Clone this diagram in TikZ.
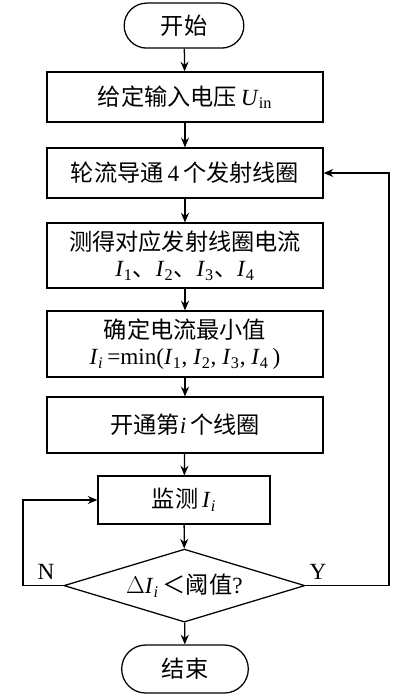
\documentclass[tikz,border=0pt]{standalone}
\usepackage{fontspec}
\setmainfont{Liberation Serif}
\newfontfamily\cjk{Noto Sans CJK SC}
\usepackage{tikz}
\usetikzlibrary{shapes.misc,shapes.geometric,arrows.meta}

\newcommand{\zh}[1]{{\cjk #1}}
\newcommand{\cur}[1]{\textit{I}\textsubscript{#1}}

\begin{document}
\begin{tikzpicture}[every node/.style={draw,line width=0.9pt,font=\fontsize{16.5}{19}\selectfont,align=center},
  line width=0.9pt, >={Stealth[length=2.4mm,width=2mm]},
  term/.style={rounded rectangle},
  box/.style={rectangle,minimum width=6.9cm},
  test/.style={diamond,aspect=3.3,inner sep=0pt},
  lbl/.style={draw=none}]

\useasboundingbox (0,0) rectangle (10,-17.4);

% Posizioni dei nodi
\node[term, minimum width=3.225cm, minimum height=1.125cm] (start) at (4.6,-0.64) {\zh{开始}};
\node[box, minimum height=1.25cm] (input) at (4.625,-2.425) {\zh{给定输入电压}\,\textit{U}\textsubscript{in}};
\node[box, minimum height=1.25cm] (turn) at (4.625,-4.325) {\zh{轮流导通}\,4\,\zh{个发射线圈}};
\node[box, minimum height=1.625cm] (meas) at (4.625,-6.39) {\zh{测得对应发射线圈电流}\\ \cur{1}\zh{、}\cur{2}\zh{、}\cur{3}\zh{、}\cur{4}};
\node[box, minimum height=1.65cm] (minv) at (4.625,-8.6) {\zh{确定电流最小值}\\ \cur{\textit{i}}\,=min(\cur{1}, \cur{2}, \cur{3}, \cur{4}\,)};
\node[box, minimum height=1.4cm] (open) at (4.625,-10.625) {\zh{开通第}\textit{i}\,\zh{个线圈}};
\node[rectangle, minimum width=4.3cm, minimum height=1.2cm] (mon) at (4.6,-12.5) {\zh{监测}\,\cur{\textit{i}}};
\node[test, minimum width=6.025cm, minimum height=1.825cm] (dec) at (4.61,-14.64) {$\Delta$\cur{\textit{i}}\,\zh{＜阈值}?};
\node[term, minimum width=3.4cm, minimum height=1.2cm] (stop) at (4.625,-16.725) {\zh{结束}};
\node[lbl] (no) at (1.15,-14.3) {N};
\node[lbl] (yes) at (7.95,-14.3) {Y};

% Archi
\draw[->] (start) -- (input);
\draw[->] (input) -- (turn);
\draw[->] (turn) -- (meas);
\draw[->] (meas) -- (minv);
\draw[->] (minv) -- (open);
\draw[->] (open) -- (mon);
\draw[->] (mon) -- (dec);
\draw[->] (dec) -- (stop);
\draw[->] (dec.east) -- (9.725,-14.64) |- (turn.east);
\draw[->] (dec.west) -- (0.575,-14.64) |- (mon.west);
\end{tikzpicture}
\end{document}
